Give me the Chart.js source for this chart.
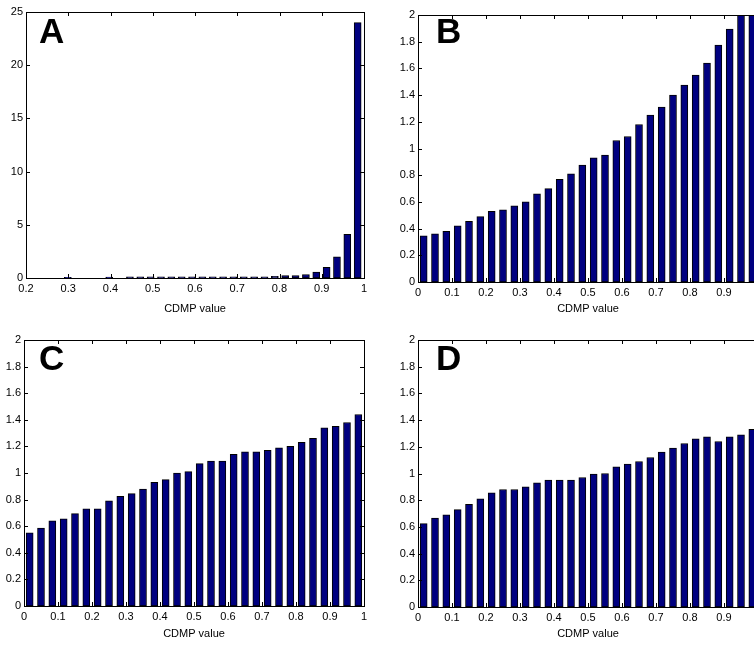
<!DOCTYPE html>
<html>
<head>
<meta charset="utf-8">
<script src="https://cdn.jsdelivr.net/npm/chart.js@4"></script>
<style>
  html, body { margin:0; padding:0; background:#fff; overflow:hidden; }
  #page { position:relative; width:754px; height:645px; overflow:hidden; }
  .panel { position:absolute; }
</style>
</head>
<body>
<div id="page">
  <div class="panel" style="left:0;top:0;width:377px;height:320px"><canvas id="chartA"></canvas></div>
  <div class="panel" style="left:377px;top:0;width:395px;height:320px"><canvas id="chartB"></canvas></div>
  <div class="panel" style="left:0;top:320px;width:377px;height:325px"><canvas id="chartC"></canvas></div>
  <div class="panel" style="left:377px;top:320px;width:395px;height:325px"><canvas id="chartD"></canvas></div>
</div>
<script>
// panel A: histogram bin centres and heights
const binsA = [0.2745, 0.299, 0.3235, 0.348, 0.3725, 0.397, 0.4215, 0.446, 0.4705, 0.495,
  0.5195, 0.544, 0.5685, 0.593, 0.6175, 0.642, 0.6665, 0.691, 0.7155, 0.74,
  0.7645, 0.789, 0.8135, 0.838, 0.8625, 0.887, 0.9115, 0.936, 0.9605, 0.985];
const valuesA = [0, 0.06, 0, 0, 0, 0.08, 0, 0.1, 0.1, 0.1,
  0.1, 0.1, 0.1, 0.1, 0.1, 0.1, 0.1, 0.1, 0.1, 0.1,
  0.1, 0.15, 0.22, 0.22, 0.33, 0.55, 1.0, 2.0, 4.1, 24.0];

// panels B, C, D share 30 bins over 0..1
const binsBCD = [0.0167, 0.05, 0.0833, 0.1167, 0.15, 0.1833, 0.2167, 0.25, 0.2833, 0.3167,
  0.35, 0.3833, 0.4167, 0.45, 0.4833, 0.5167, 0.55, 0.5833, 0.6167, 0.65,
  0.6833, 0.7167, 0.75, 0.7833, 0.8167, 0.85, 0.8833, 0.9167, 0.95, 0.9833];
const valuesB = [0.345, 0.36, 0.38, 0.42, 0.455, 0.49, 0.53, 0.54, 0.57, 0.6,
  0.66, 0.7, 0.77, 0.81, 0.875, 0.93, 0.95, 1.06, 1.09, 1.18,
  1.25, 1.31, 1.4, 1.475, 1.55, 1.64, 1.775, 1.895, 2.1, 2.3];
const valuesC = [0.55, 0.585, 0.64, 0.655, 0.695, 0.73, 0.73, 0.79, 0.825, 0.845,
  0.88, 0.93, 0.95, 1.0, 1.01, 1.07, 1.09, 1.09, 1.14, 1.16,
  1.16, 1.17, 1.19, 1.2, 1.23, 1.26, 1.34, 1.35, 1.38, 1.44];
const valuesD = [0.625, 0.667, 0.69, 0.73, 0.77, 0.81, 0.855, 0.88, 0.88, 0.9,
  0.93, 0.95, 0.95, 0.95, 0.97, 0.995, 1.0, 1.05, 1.07, 1.09,
  1.12, 1.16, 1.19, 1.225, 1.26, 1.275, 1.24, 1.275, 1.29, 1.33];

const xTicksA = [0.2, 0.3, 0.4, 0.5, 0.6, 0.7, 0.8, 0.9, 1];
const xTicks01 = [0, 0.1, 0.2, 0.3, 0.4, 0.5, 0.6, 0.7, 0.8, 0.9, 1];
const yTicksA = [0, 5, 10, 15, 20, 25];
const yTicks2 = [0, 0.2, 0.4, 0.6, 0.8, 1, 1.2, 1.4, 1.6, 1.8, 2];

const FONT = "'Liberation Sans', Arial, Helvetica, sans-serif";
Chart.defaults.font.family = FONT;
Chart.defaults.color = "#000";

// MATLAB style box with inward ticks + panel letter
const matlabBox = {
    id: "matlabBox",
    afterDraw(chart, args, opts){
        const c = chart.ctx, a = chart.chartArea;
        const xs = chart.scales.x, ys = chart.scales.y;
        c.save();
        c.strokeStyle = "#000";
        c.lineWidth = 1;
        c.beginPath();
        xs.ticks.forEach(t=>{
            const px = Math.round(xs.getPixelForValue(t.value)) + 0.5;
            c.moveTo(px, a.bottom); c.lineTo(px, a.bottom - 4);
            c.moveTo(px, a.top); c.lineTo(px, a.top + 4);
        });
        ys.ticks.forEach(t=>{
            const py = Math.round(ys.getPixelForValue(t.value)) + 0.5;
            c.moveTo(a.left, py); c.lineTo(a.left + 4, py);
            c.moveTo(a.right, py); c.lineTo(a.right - 4, py);
        });
        c.stroke();
        c.strokeRect(Math.round(a.left) + 0.5, Math.round(a.top) + 0.5,
            Math.round(a.right - a.left), Math.round(a.bottom - a.top));
        c.fillStyle = "#000";
        c.font = "bold 35px " + FONT;
        c.textBaseline = "alphabetic";
        c.fillText(opts.letter, a.left + opts.dx, a.top + opts.dy);
        c.restore();
    }
};

function makeChart(id, bins, values, cfg){
    const pts = bins.map((b,i)=>({x:b, y:values[i]}));
    return new Chart(document.getElementById(id),{
        type:"bar",
        data:{
            datasets:[{
                data:pts,
                backgroundColor:"#000080",
                borderColor:"#000",
                borderWidth:1,
                borderSkipped:false,
                barThickness:7
            }]
        },
        options:{
            responsive:true,
            maintainAspectRatio:false,
            animation:false,
            events:[],
            layout:{ padding:{ top:cfg.top, right:cfg.right, left:0, bottom:0 } },
            plugins:{
                legend:{ display:false },
                tooltip:{ enabled:false },
                matlabBox:{ letter:cfg.letter, dx:cfg.dx, dy:cfg.dy }
            },
            scales:{
                x:{
                    type:"linear",
                    offset:false,
                    min:cfg.xTicks[0],
                    max:cfg.xTicks[cfg.xTicks.length-1],
                    afterBuildTicks:s=>{ s.ticks = cfg.xTicks.map(v=>({value:v})); },
                    afterFit:s=>{ s.height = cfg.xh; },
                    grid:{ display:false, drawTicks:false },
                    border:{ display:false },
                    ticks:{
                        autoSkip:false, maxRotation:0, padding:4,
                        font:{ size:11 },
                        callback:v=>String(+v.toFixed(2))
                    },
                    title:{ display:true, text:"CDMP value", font:{ size:11 }, padding:{ top:6 } }
                },
                y:{
                    min:cfg.yTicks[0],
                    max:cfg.yTicks[cfg.yTicks.length-1],
                    afterBuildTicks:s=>{ s.ticks = cfg.yTicks.map(v=>({value:v})); },
                    afterFit:s=>{ s.width = cfg.yw; },
                    grid:{ display:false, drawTicks:false },
                    border:{ display:false },
                    ticks:{
                        padding:3,
                        font:{ size:11 },
                        callback:v=>String(+v.toFixed(2))
                    }
                }
            }
        },
        plugins:[matlabBox]
    });
}

makeChart("chartA", binsA, valuesA, {
    letter:"A", dx:13, dy:31, top:12, right:13, yw:26, xh:42,
    xTicks:xTicksA, yTicks:yTicksA
});
makeChart("chartB", binsBCD, valuesB, {
    letter:"B", dx:18, dy:28, top:15, right:14, yw:41, xh:38,
    xTicks:xTicks01, yTicks:yTicks2
});
makeChart("chartC", binsBCD, valuesC, {
    letter:"C", dx:15, dy:30, top:20, right:13, yw:24, xh:39,
    xTicks:xTicks01, yTicks:yTicks2
});
makeChart("chartD", binsBCD, valuesD, {
    letter:"D", dx:18, dy:30, top:20, right:14, yw:41, xh:38,
    xTicks:xTicks01, yTicks:yTicks2
});
</script>
</body>
</html>
